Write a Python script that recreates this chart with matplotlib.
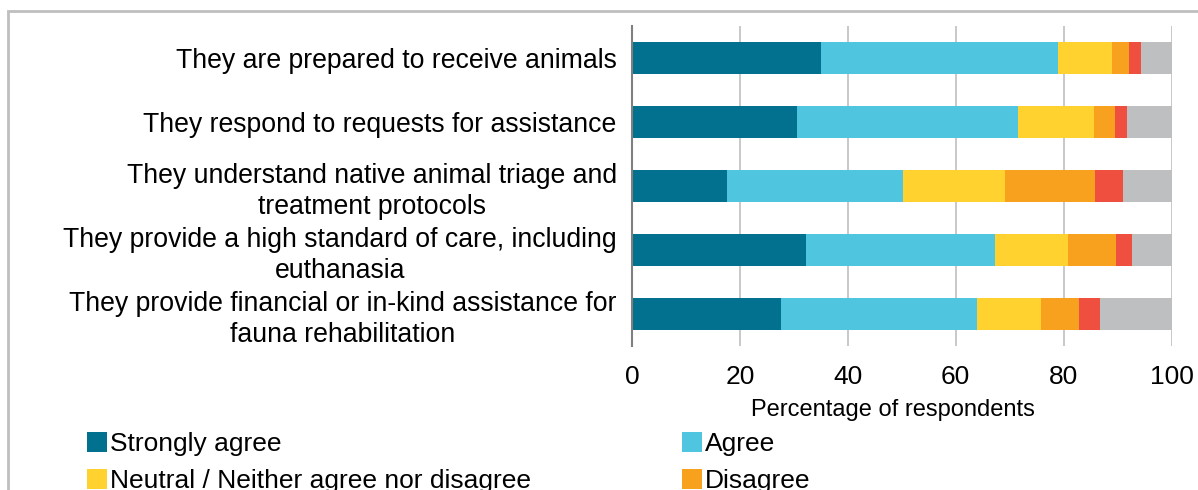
import numpy
import matplotlib
matplotlib.use("Agg")
import matplotlib.pyplot as plt
from matplotlib.patches import Rectangle

plt.rcParams['font.family'] = ['Liberation Sans', 'DejaVu Sans']

statements = [
	"They are prepared to receive animals",
	"They respond to requests for assistance",
	"They understand native animal triage and\ntreatment protocols",
	"They provide a high standard of care, including\neuthanasia",
	"They provide financial or in-kind assistance for\nfauna rehabilitation",
]
responses = ["Strongly agree", "Agree", "Neutral / Neither agree nor disagree",
	"Disagree", "Strongly disagree", "Unsure"]
colours = ["#02708F", "#4FC5DF", "#FFD230", "#F8A11E", "#EF4F3E", "#BEBFC1"]

# percentage of respondents per response, one list per statement
strongly_agree = [35.0, 30.6, 17.7, 32.3, 27.7]
agree = [43.9, 40.9, 32.6, 34.9, 36.2]
neutral = [10.1, 14.2, 18.9, 13.6, 11.9]
disagree = [3.2, 3.8, 16.7, 8.9, 7.0]
strongly_disagree = [2.2, 2.2, 5.2, 2.9, 4.0]
unsure = [5.6, 8.3, 8.9, 7.4, 13.2]

series = [strongly_agree, agree, neutral, disagree, strongly_disagree, unsure]

W, H = 1198, 490
fig = plt.figure(figsize=(W/100, H/100), dpi=100)
ax = fig.add_axes([632/W, 1-346/H, (1171.5-632)/W, 320/H])

y = numpy.arange(len(statements))
left = numpy.zeros(len(statements))
bars = []
for vals, col, name in zip(series, colours, responses):
	b = ax.barh(y, vals, left=left, height=0.5, color=col, label=name, zorder=3)
	bars.append(b)
	left += numpy.array(vals)

ax.set_ylim(len(statements)-0.5, -0.5)
ax.set_xlim(0, 100)
ax.set_xticks(numpy.arange(0, 101, 20))
ax.set_yticks(y)
ax.set_yticklabels(statements, fontsize=19.2, multialignment='center', linespacing=1.27)
ax.tick_params(axis='x', length=0, labelsize=19, pad=14)
ax.tick_params(axis='y', length=0, pad=11)
ax.set_xlabel("Percentage of respondents", fontsize=17, labelpad=7)
ax.xaxis.label.set_x(0.483)

ax.grid(axis='x', color='#BFBFBF', linewidth=1.2, zorder=0)
for s in ['top', 'right', 'bottom']:
	ax.spines[s].set_visible(False)
ax.spines['left'].set_color('#7F7F7F')
ax.spines['left'].set_linewidth(1.5)
ax.spines['left'].set_zorder(4)

# legend fills column-wise, so reorder for row-wise reading
order = [0, 2, 4, 1, 3, 5]
fig.legend([bars[i] for i in order], [responses[i] for i in order],
	loc='upper left', bbox_to_anchor=(87/W, 1-432/H), ncol=2, frameon=False,
	fontsize=19, handlelength=0.76, handleheight=0.76, handletextpad=0.12,
	labelspacing=0.5, columnspacing=5.7, borderpad=0, borderaxespad=0)

# light grey frame round the chart area
fig.patches.append(Rectangle((7.5/W, -0.2), 1.2, 1.2-11.5/H, transform=fig.transFigure,
	fill=False, edgecolor='#BFBFBF', linewidth=2))

fig.savefig("out.png", dpi=100)
